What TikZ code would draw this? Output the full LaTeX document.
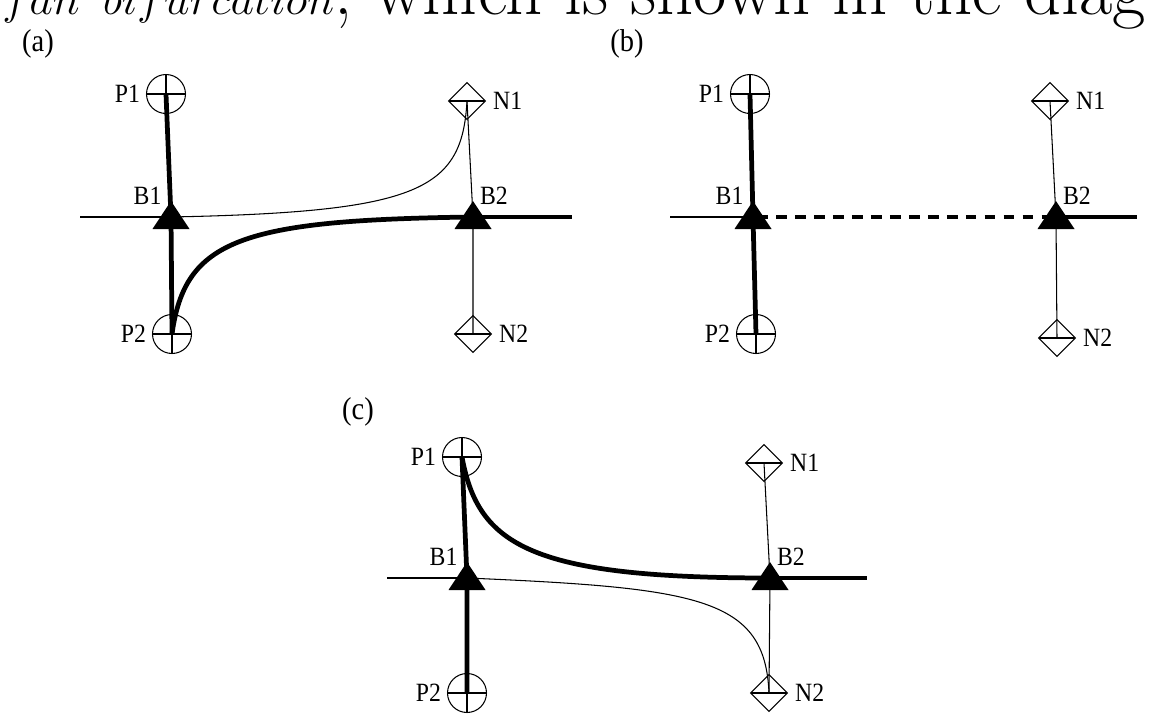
\documentclass[tikz,border=0pt]{standalone}
\usepackage{fontspec}
\newfontfamily\etifont[FakeStretch=0.9]{Liberation Serif}
\usetikzlibrary{shapes.geometric, positioning, calc}

\begin{document}
\begin{tikzpicture}[
  x=0.02cm, y=-0.02cm,
  filo/.style={draw=black, line width=0.6pt},
  filospesso/.style={draw=black, line width=2.7pt},
  tratteggio/.style={draw=black, line width=2.7pt, dash pattern=on 6.1pt off 4.7pt, dash phase=8.5pt},
  nodop/.style={circle, draw=black, line width=0.6pt, minimum size=0.78cm, inner sep=0pt,
    path picture={\draw[line width=0.6pt] (path picture bounding box.north) -- (path picture bounding box.south)
      (path picture bounding box.west) -- (path picture bounding box.east);}},
  nodon/.style={diamond, draw=black, line width=0.6pt, minimum size=0.74cm, inner sep=0pt,
    path picture={\draw[line width=0.6pt] (path picture bounding box.west) -- (path picture bounding box.east);}},
  etichetta/.style={font=\etifont\fontsize{15}{17}\selectfont, inner sep=1pt},
  pannello/.style={font=\etifont\fontsize{18}{20}\selectfont, inner sep=0pt},
  triang/.pic={\fill (0,-16) -- (-18.5,12) -- (18.5,12) -- cycle;}
]
\useasboundingbox (0,0) rectangle (1161,727);
\clip (0,0) rectangle (1161,727);

% Testo in alto (tagliato)
\node[anchor=base west, inner sep=0pt, font=\fontsize{41.3}{44}\selectfont] (testo) at (2,14)
  {\scalebox{1.05}[1]{$fan\ bifurcation$}, which is shown in the diag};

\node[pannello] (pa) at (38,44) {(a)};
\node[pannello] (pb) at (627,44) {(b)};
\node[pannello] (pc) at (358,412) {(c)};

% ---- (a) ----
\node[nodop] (P1a) at (166,94) {};
\node[nodop] (P2a) at (172,334) {};
\node[nodon] (N1a) at (467,101) {};
\node[nodon] (N2a) at (473,334) {};
\coordinate (B1a) at (171,217);
\coordinate (B2a) at (473,217);
\coordinate (Sa) at (80,217);
\coordinate (Ea) at (572,217);

\draw[filo] (Sa) -- (B1a);
\draw[filo] (N1a.center) -- (B2a) -- (N2a.center);
\draw[filo] (B1a) .. controls (420,212) and (462,190) .. (N1a.center);
\draw[filospesso] (P1a.center) -- (B1a) -- (P2a.center);
\draw[filospesso] (P2a.center) .. controls (185,240) and (240,220) .. (B2a);
\draw[filospesso] (B2a) -- (Ea);
\pic at (B1a) {triang};
\pic at (B2a) {triang};

% ---- (b) ----
\node[nodop] (P1b) at (750,94) {};
\node[nodop] (P2b) at (756,334) {};
\node[nodon] (N1b) at (1050,101) {};
\node[nodon] (N2b) at (1057,338) {};
\coordinate (B1b) at (753,217);
\coordinate (B2b) at (1056,217);
\coordinate (Sb) at (670,217);
\coordinate (Eb) at (1137,217);

\draw[filo] (Sb) -- (B1b);
\draw[filo] (N1b.center) -- (B2b) -- (N2b.center);
\draw[filospesso] (P1b.center) -- (B1b) -- (P2b.center);
\draw[tratteggio] (B1b) -- (B2b);
\draw[filospesso] (B2b) -- (Eb);
\pic at (B1b) {triang};
\pic at (B2b) {triang};

% ---- (c) ----
\node[nodop] (P1c) at (462,457) {};
\node[nodop] (P2c) at (467,693) {};
\node[nodon] (N1c) at (764,463) {};
\node[nodon] (N2c) at (769,693) {};
\coordinate (B1c) at (467,578);
\coordinate (B2c) at (770,578);
\coordinate (Sc) at (387,578);
\coordinate (Ec) at (867,578);

\draw[filo] (Sc) -- (B1c);
\draw[filo] (N1c.center) -- (B2c) -- (N2c.center);
\draw[filo] (B1c) .. controls (700,588) and (765,598) .. (N2c.center);
\draw[filospesso] (P1c.center) -- (B1c) -- (P2c.center);
\draw[filospesso] (P1c.center) .. controls (478,545) and (530,578) .. (B2c);
\draw[filospesso] (B2c) -- (Ec);
\pic at (B1c) {triang};
\pic at (B2c) {triang};

% Etichette
\foreach \p in {a,b,c}{
  \node[etichetta, left=0.08cm of P1\p] (lP1\p) {P1};
  \node[etichetta, left=0.08cm of P2\p] (lP2\p) {P2};
  \node[etichetta, right=0.1cm of N1\p] (lN1\p) {N1};
  \node[etichetta, right=0.1cm of N2\p] (lN2\p) {N2};
  \node[etichetta, above left=0.2cm and 0.15cm of B1\p] (lB1\p) {B1};
  \node[etichetta, above right=0.2cm and 0.1cm of B2\p] (lB2\p) {B2};
}

\end{tikzpicture}
\end{document}
